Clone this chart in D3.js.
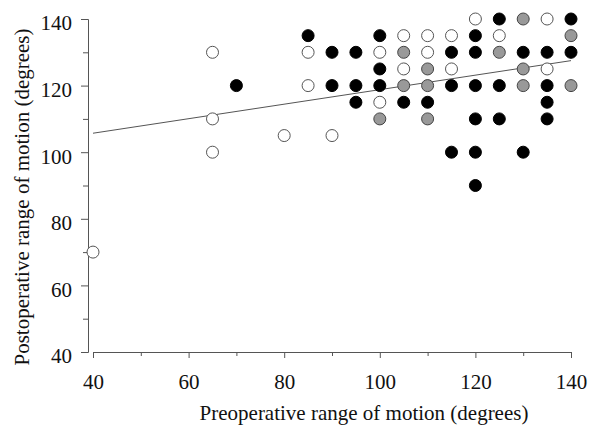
<!DOCTYPE html>
<html>
<head>
<meta charset="utf-8">
<script src="https://cdn.jsdelivr.net/npm/d3@7"></script>
<style>
  body { margin: 0; background: #fff; }
  text { font-family: "Liberation Serif", "Times New Roman", serif; fill: #111; }
</style>
</head>
<body>
<div id="scatter"></div>
<script>
// Data: [preoperative, postoperative]
var openPts = [[40,70],[65,130],[65,110],[65,100],[80,105],[85,130],[85,120],[90,105],
  [100,130],[100,115],[105,135],[105,125],[110,135],[110,130],[115,135],[115,125],
  [120,140],[125,135],[135,140],[135,125]];
var grayPts = [[100,110],[105,130],[105,120],[110,125],[110,120],[110,110],[125,130],
  [130,140],[130,125],[130,120],[140,135],[140,120]];
var blackPts = [[70,120],[85,135],[90,130],[90,120],[95,130],[95,120],[95,115],[100,135],
  [100,125],[100,120],[105,115],[110,115],[115,130],[115,120],[115,100],[120,135],
  [120,130],[120,120],[120,110],[120,100],[120,90],[125,140],[125,120],[125,110],
  [130,130],[130,100],[135,130],[135,120],[135,115],[135,110],[140,140],[140,130]];
var fitX = [40, 140];
var fitY = [105.7, 127.5];
var majorTicks = [40, 60, 80, 100, 120, 140];
var minorTicks = [50, 70, 90, 110, 130];

var svgWidth = 596;
var svgHeight = 428;

var svg = d3.select("#scatter")
  .append("svg")
  .attr("width", svgWidth)
  .attr("height", svgHeight);

var xScale = d3.scaleLinear().domain([40, 140]).range([93, 571]);
var yScale = d3.scaleLinear().domain([40, 140]).range([352, 19]);
var yAxisX = 88;

// Y axis (detached a bit to the left)
var yAxis = svg.append("g")
  .attr("transform", `translate(${yAxisX},0)`)
  .call(d3.axisLeft(yScale).tickValues(majorTicks).tickSize(7).tickSizeOuter(0).tickPadding(9));
svg.append("g")
  .attr("transform", `translate(${yAxisX},0)`)
  .call(d3.axisLeft(yScale).tickValues(minorTicks).tickSize(5).tickFormat("").tickSizeOuter(0));
yAxis.selectAll("text").attr("dy", "0.52em");

// X axis
var xAxis = svg.append("g")
  .attr("transform", "translate(0,352)")
  .call(d3.axisBottom(xScale).tickValues(majorTicks).tickSize(6).tickSizeOuter(0));
svg.append("g")
  .attr("transform", "translate(0,352)")
  .call(d3.axisBottom(xScale).tickValues(minorTicks).tickSize(4).tickFormat("").tickSizeOuter(0));
xAxis.selectAll("text").attr("y", 37).attr("dy", 0);

svg.selectAll(".tick text")
  .style("font-family", '"Liberation Serif", serif')
  .style("font-size", "21px")
  .attr("fill", "#111");
svg.selectAll(".domain, .tick line").attr("stroke", "#555");

// regression line
svg.append("line")
  .attr("x1", xScale(fitX[0])).attr("y1", yScale(fitY[0]))
  .attr("x2", xScale(fitX[1])).attr("y2", yScale(fitY[1]))
  .attr("stroke", "#555")
  .attr("stroke-width", 1);

// points
function addPoints(pts, fill, stroke) {
  svg.append("g").selectAll("circle")
    .data(pts)
    .enter()
    .append("circle")
    .attr("cx", d => xScale(d[0]))
    .attr("cy", d => yScale(d[1]))
    .attr("r", 6)
    .attr("fill", fill)
    .attr("stroke", stroke)
    .attr("stroke-width", 1);
}
addPoints(openPts, "#fff", "#555");
addPoints(grayPts, "#999", "#444");
addPoints(blackPts, "#000", "#000");

// axis titles
svg.append("text")
  .text("Preoperative range of motion (degrees)")
  .attr("x", 364)
  .attr("y", 420)
  .attr("text-anchor", "middle")
  .style("font-size", "21px");

svg.append("text")
  .text("Postoperative range of motion (degrees)")
  .attr("transform", "rotate(-90)")
  .attr("x", -197)
  .attr("y", 29)
  .attr("text-anchor", "middle")
  .style("font-size", "21px");
</script>
</body>
</html>
